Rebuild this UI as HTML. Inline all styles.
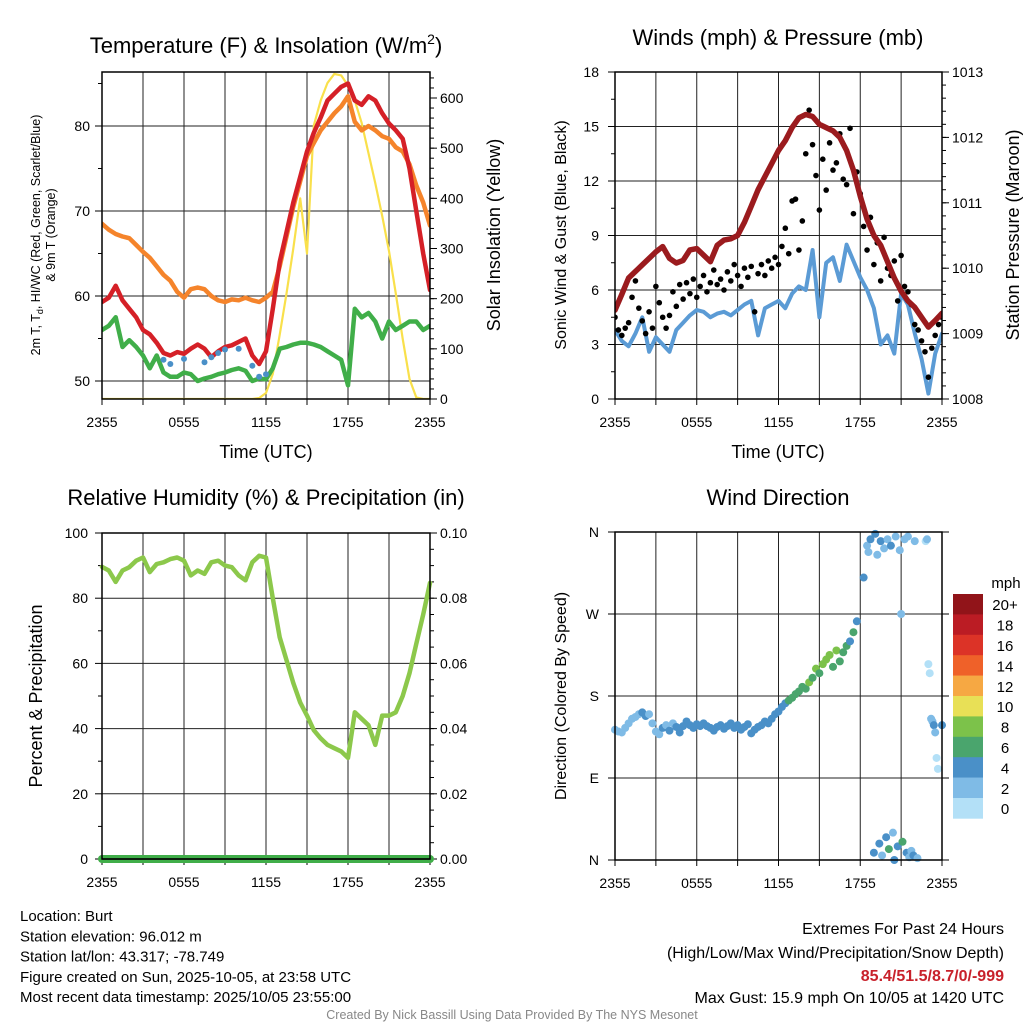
<!DOCTYPE html>
<html><head><meta charset="utf-8">
<style>
html,body{margin:0;padding:0;background:#fff;}
svg{display:block;font-family:"Liberation Sans",sans-serif;}
</style></head>
<body>
<svg id="fig" width="1024" height="1024" viewBox="0 0 1024 1024" xmlns="http://www.w3.org/2000/svg"></svg>
<script>
// ---------- DATA (half-hourly, 2355 -> 2355 UTC) ----------
const hourTickLabels = ["2355","0555","1155","1755","2355"];
const tempRed = [59.3,59.8,61.2,59.5,58.5,57.5,56.0,55.5,54.5,53.3,53.0,53.4,53.2,53.8,54.3,53.8,52.8,53.5,54.0,54.2,54.6,55.0,53.0,52.0,53.5,58.5,64.0,67.5,71.0,74.0,77.0,79.2,81.0,83.0,83.8,84.6,85.0,83.0,82.5,83.5,83.0,81.5,80.3,79.5,78.5,75.0,70.0,65.0,60.7];
const temp9m = [68.5,67.8,67.3,67.0,66.8,66.0,65.2,64.5,63.5,62.5,61.8,60.5,59.8,60.8,61.0,60.8,60.0,59.5,59.3,59.6,59.5,59.8,59.5,59.3,59.8,60.5,63.5,67.0,70.5,73.5,76.5,78.0,79.5,80.5,81.5,82.3,83.5,80.5,79.5,80.0,79.5,78.8,78.5,77.5,77.0,75.5,73.0,71.0,68.3];
const dewGreen = [56.0,56.5,57.5,54.0,54.8,54.0,53.0,51.5,53.0,51.0,50.5,50.5,51.0,50.8,50.0,50.3,50.5,50.8,51.0,51.3,51.5,51.2,50.0,50.3,50.2,51.5,53.8,54.0,54.3,54.5,54.5,54.3,54.0,53.5,53.0,52.5,49.5,58.5,57.5,58.0,57.0,55.0,57.0,56.0,56.5,57.0,57.0,56.0,56.5];
const hiwcBlue = [null,null,null,null,null,null,null,null,null,52.5,52.0,null,52.6,null,null,52.2,52.8,53.3,53.7,null,53.8,null,51.8,50.5,50.8,null,null,null,null,null,null,null,null,null,null,null,null,null,null,null,null,null,null,null,null,null,null,null,null];
const insolation = [0,0,0,0,0,0,0,0,0,0,0,0,0,0,0,0,0,0,0,0,0,0,0,2,12,50,128,210,300,400,290,545,595,630,648,645,625,595,550,490,430,365,295,210,120,40,3,0,0];
const windSpeed = [3.8,3.2,2.9,3.6,4.5,2.6,3.4,3.0,2.6,3.8,4.2,4.6,4.9,4.8,4.5,4.7,4.8,4.6,4.9,5.2,5.4,3.5,5.0,5.2,5.4,5.0,5.8,6.2,6.0,8.2,4.5,7.5,7.8,6.5,8.5,7.6,6.7,6.0,5.0,3.0,3.5,2.5,5.8,5.2,3.6,2.2,0.3,2.5,3.6];
const pressure = [1009.36,1009.6,1009.85,1009.95,1010.05,1010.15,1010.25,1010.33,1010.15,1010.08,1010.12,1010.28,1010.3,1010.2,1010.1,1010.35,1010.43,1010.45,1010.5,1010.7,1010.95,1011.2,1011.4,1011.6,1011.8,1011.95,1012.15,1012.3,1012.35,1012.32,1012.2,1012.15,1012.1,1012.0,1011.8,1011.5,1011.1,1010.75,1010.5,1010.35,1010.1,1009.85,1009.65,1009.5,1009.4,1009.25,1009.1,1009.2,1009.31];
// gusts every 15 minutes
const gust = [4.5,3.8,3.5,3.9,4.2,5.6,6.5,5.0,4.3, 3.6,4.8,3.9,6.2,5.3,4.5,3.9,4.6, 5.9,5.1,6.3,5.5,6.4,5.8,6.6,5.6, 6.2,6.8,5.9,6.4,7.1,6.3,6.6,6.0, 7.0,6.5,7.4,6.8,6.2,7.2,6.7,7.3, 4.8,6.9,7.4,6.8,7.6,7.2,7.8,7.4, 8.4,9.4,8.0,10.9,11.0,8.2,9.8,13.5, 15.9,14.0,12.3,10.4,13.2,11.5,14.1,12.6, 13.0,14.6,12.1,11.8,14.9,10.2,12.5,11.3, 9.5,8.2,10.0,7.4,8.6,6.5,8.9,7.2, 6.8,7.6,5.4,7.9,6.2,5.9,5.2,4.1, 3.8,3.2,2.6,1.2,2.8,3.5,4.1,4.5];
const relHum = [89.6,88.5,85,88.5,89.5,91.5,92.5,88,90.5,91,92,92.5,91.5,87,88.5,87.5,91,91.5,90,89.5,87,85.5,91,93,92.5,80,68,61,54,48,44,39.5,37,35,34,33,31,45,43,41,35,44,44,45,50,57,66,75,84.7];
const precip = [0,0,0,0,0,0,0,0,0,0,0,0,0,0,0,0,0,0,0,0,0,0,0,0,0,0,0,0,0,0,0,0,0,0,0,0,0,0,0,0,0,0,0,0,0,0,0,0,0];
// wind direction scatter
const dirHour = [0,0.25,0.5,0.75,1,1.25,1.5,1.75,2,2.25,2.5,2.75,3,3.25,3.5,3.75,4,4.25,4.5,4.75,5,5.25,5.5,5.75,6,6.25,6.5,6.75,7,7.25,7.5,7.75,8,8.25,8.5,8.75,9,9.25,9.5,9.75,10,10.25,10.5,10.75,11,11.25,11.5,11.75,12,
 12.25,12.5,12.75,13,13.25,13.5,13.75,14,14.25,14.5,14.75,15,15.25,15.5,15.75,16,16.25,16.5,16.75,17,17.25,17.5,17.75,
 18.25,18.5,18.6,18.75,19,19.1,19.25,19.4,19.5,19.6,19.75,19.9,20,20.1,20.25,20.4,20.5,20.6,20.75,20.9,21,21.1,21.25,21.4,21.5,21.6,21.75,21.9,22,22.2,
 22.8,22.9,23.0,23.1,23.2,23.3,23.4,23.5,23.6,23.7,24];
const dirDeg = [143,141,140,145,150,155,157,160,162,158,160,150,141,138,145,148,142,150,146,140,147,152,148,145,149,147,150,147,145,142,146,148,144,147,150,145,148,143,146,149,139,143,146,148,152,150,155,160,163,
 168,172,175,178,182,185,190,188,195,200,210,205,215,220,225,212,230,218,228,235,240,250,262,
 310,345,338,352,8,358,335,18,350,5,342,25,352,12,345,30,0,355,15,340,270,20,352,8,355,3,10,5,350,2,
 350,352,215,205,155,152,148,140,112,100,148];
const dirSpeed = [3.8,3.5,3.2,3.0,2.9,3.4,3.8,3.1,4.5,4.2,2.8,3.5,3.4,3.1,4.1,3.6,4.5,3.9,4.4,4.2,4.2,4.5,4.6,4.8,4.9,4.7,4.8,4.6,4.5,4.4,4.7,4.6,4.8,4.5,4.6,4.9,4.9,5.1,5.2,5.0,5.4,4.8,5.0,5.1,5.0,5.2,5.4,5.8,5.4,
 5,5.5,6,6.5,7,6,6.5,7.5,8,6,8.5,7.5,8,9,8.5,6.5,8,7.5,6,6,5,6.5,5,
 4,3.5,2.5,4,5,4,3,4,4.5,3.5,2.5,4,3,6.5,4,2.5,4,3,4,3,3.5,6.5,3,4.5,3,2.5,3,4,2,3,
 1.5,2,1,1.5,2,2.5,4,3,1,1.5,4.5];
const cbLabels = ["20+","18","16","14","12","10","8","6","4","2","0"];
const cbColors = ["#911419","#bb1c24","#dc3327","#ef6129","#f6a843","#e8e056","#7cc24a","#4aa56d","#4a90c8","#7fbbe6","#b3e0f7"];

// ---------- helpers ----------
const svg = document.getElementById('fig');
const NS = "http://www.w3.org/2000/svg";
function mk(tag, attrs, parent){ const e=document.createElementNS(NS,tag); for(const k in attrs) e.setAttribute(k,attrs[k]); (parent||svg).appendChild(e); return e; }
function txt(s, x, y, size, anchor, parent, extra){ const t=mk('text',Object.assign({x:x,y:y,'font-size':size,'text-anchor':anchor||'middle',fill:'#000'},extra||{}),parent); t.textContent=s; return t; }
function lin(d0,d1,r0,r1){ return v => r0+(v-d0)*(r1-r0)/(d1-d0); }

const P1={x0:102,x1:430,y0:72,y1:399}, P2={x0:615,x1:942,y0:72,y1:399};
const P3={x0:102,x1:430,y0:533,y1:859}, P4={x0:615,x1:942,y0:532,y1:860};

function frame(P, name){
  const g=mk('g',{});  
  const xs=lin(0,24,P.x0,P.x1);
  for(let h=3;h<24;h+=3) mk('line',{x1:xs(h),x2:xs(h),y1:P.y0,y2:P.y1,stroke:'#222','stroke-width':1},g);
  for(let h=0;h<=24;h+=3) mk('line',{x1:xs(h),x2:xs(h),y1:P.y1,y2:P.y1+6,stroke:'#000','stroke-width':1},g);
  hourTickLabels.forEach((l,i)=>{ const t=txt(l,xs(i*6),P.y1+28,14,'middle',g);   });
  return {g,xs};
}
function border(P,g){ mk('rect',{x:P.x0,y:P.y0,width:P.x1-P.x0,height:P.y1-P.y0,fill:'none',stroke:'#000','stroke-width':1.5},g); }
function hgrid(P,g,ys,vals){ vals.forEach(v=>mk('line',{x1:P.x0,x2:P.x1,y1:ys(v),y2:ys(v),stroke:'#222','stroke-width':1},g)); }
function leftTicks(P,g,ys,major,minor,fmt,off){
  minor.forEach(v=>mk('line',{x1:P.x0-4,x2:P.x0,y1:ys(v),y2:ys(v),stroke:'#000'},g));
  major.forEach(v=>{ mk('line',{x1:P.x0-7,x2:P.x0,y1:ys(v),y2:ys(v),stroke:'#000'},g); const t=txt(fmt(v),P.x0-(off||12),ys(v)+5,14,'end',g);   });
}
function rightTicks(P,g,ys,major,minor,fmt){
  minor.forEach(v=>mk('line',{x1:P.x1,x2:P.x1+4,y1:ys(v),y2:ys(v),stroke:'#000'},g));
  major.forEach(v=>{ mk('line',{x1:P.x1,x2:P.x1+7,y1:ys(v),y2:ys(v),stroke:'#000'},g); const t=txt(fmt(v),P.x1+10,ys(v)+5,14,'start',g);   });
}
function pathFrom(arr, xs, ys, step){
  let d='', pen=false;
  arr.forEach((v,i)=>{ if(v===null){pen=false;return;} d+=(pen?'L':'M')+xs(i*step).toFixed(1)+','+ys(v).toFixed(1); pen=true; });
  return d;
}
function range(a,b,s){ const r=[]; for(let v=a; v<=b+1e-9; v+=s) r.push(+v.toFixed(4)); return r; }

// ---------- Panel 1 ----------
(function(){
  const {g,xs}=frame(P1,'temperature-panel');
  const ys=lin(50,80,381,126), yr=lin(0,600,399,98);
  hgrid(P1,g,ys,[50,60,70,80]);
  leftTicks(P1,g,ys,[50,60,70,80],[55,65,75,85],v=>String(v));
  rightTicks(P1,g,yr,[0,100,200,300,400,500,600],range(0,640,20),v=>String(v));
  const clip=mk('clipPath',{id:'c1'},g); mk('rect',{x:P1.x0,y:P1.y0,width:P1.x1-P1.x0,height:P1.y1-P1.y0},clip);
  const pg=mk('g',{'clip-path':'url(#c1)'},g);
  let p;
  p=mk('path',{d:pathFrom(insolation,xs,yr,0.5),fill:'none',stroke:'#f9e04b','stroke-width':2.2,'stroke-linejoin':'round'},pg);  
  p=mk('path',{d:pathFrom(temp9m,xs,ys,0.5),fill:'none',stroke:'#f5842b','stroke-width':4.5,'stroke-linejoin':'round','stroke-linecap':'round'},pg);  
  p=mk('path',{d:pathFrom(dewGreen,xs,ys,0.5),fill:'none',stroke:'#40ae49','stroke-width':4.5,'stroke-linejoin':'round','stroke-linecap':'round'},pg);  
  p=mk('path',{d:pathFrom(tempRed,xs,ys,0.5),fill:'none',stroke:'#d52027','stroke-width':4.5,'stroke-linejoin':'round','stroke-linecap':'round'},pg);  
  hiwcBlue.forEach((v,i)=>{ if(v===null) return; const c=mk('circle',{cx:xs(i*0.5),cy:ys(v),r:3,fill:'#4a90c8'},pg);   });
  border(P1,g);
  let t=mk('text',{x:266,y:53,'font-size':22,'text-anchor':'middle'});
  t.innerHTML='Temperature (F) &amp; Insolation (W/m<tspan dy="-9" font-size="14">2</tspan><tspan dy="9">)</tspan>';
   
  t=txt('Time (UTC)',266,458,18);  
  t=mk('text',{x:0,y:0,'font-size':12.5,'text-anchor':'middle',transform:'translate(40,235) rotate(-90)'});
  t.innerHTML='2m T, T<tspan dy="3" font-size="9">d</tspan><tspan dy="-3">, HI/WC (Red, Green, Scarlet/Blue)</tspan>';
   
  t=txt('& 9m T (Orange)',0,0,12.5,'middle',null,{transform:'translate(55,235) rotate(-90)'});  
  t=txt('Solar Insolation (Yellow)',0,0,18,'middle',null,{transform:'translate(500,235) rotate(-90)'});  
})();

// ---------- Panel 2 ----------
(function(){
  const {g,xs}=frame(P2,'wind-pressure-panel');
  const ys=lin(0,18,399,72), yr=lin(1008,1013,399,72);
  hgrid(P2,g,ys,[3,6,9,12,15]);
  leftTicks(P2,g,ys,[0,3,6,9,12,15,18],[1.5,4.5,7.5,10.5,13.5,16.5],v=>String(v),16);
  rightTicks(P2,g,yr,[1008,1009,1010,1011,1012,1013],range(1008,1013,0.2),v=>String(v));
  const clip=mk('clipPath',{id:'c2'},g); mk('rect',{x:P2.x0,y:P2.y0,width:P2.x1-P2.x0,height:P2.y1-P2.y0},clip);
  const pg=mk('g',{'clip-path':'url(#c2)'},g);
  let p=mk('path',{d:pathFrom(windSpeed,xs,ys,0.5),fill:'none',stroke:'#5b9bd5','stroke-width':4,'stroke-linejoin':'round','stroke-linecap':'round'},pg);  
  gust.forEach((v,i)=>{ const c=mk('circle',{cx:xs(i*0.25),cy:ys(v),r:2.8,fill:'#000'},pg);   });
  p=mk('path',{d:pathFrom(pressure,xs,yr,0.5),fill:'none',stroke:'#9b1b1e','stroke-width':5.5,'stroke-linejoin':'round','stroke-linecap':'round'},pg);  
  border(P2,g);
  let t=txt('Winds (mph) & Pressure (mb)',778,45,22);  
  t=txt('Time (UTC)',778,458,18);  
  t=txt('Sonic Wind & Gust (Blue, Black)',0,0,16,'middle',null,{transform:'translate(566,235) rotate(-90)'});  
  t=txt('Station Pressure (Maroon)',0,0,18,'middle',null,{transform:'translate(1019,235) rotate(-90)'});  
})();

// ---------- Panel 3 ----------
(function(){
  const {g,xs}=frame(P3,'humidity-precip-panel');
  const ys=lin(0,100,859,533), yr=lin(0,0.1,859,533);
  hgrid(P3,g,ys,[20,40,60,80]);
  leftTicks(P3,g,ys,[0,20,40,60,80,100],[10,30,50,70,90],v=>String(v),14);
  rightTicks(P3,g,yr,[0,0.02,0.04,0.06,0.08,0.1],range(0,0.1,0.005),v=>v.toFixed(2));
  let p=mk('path',{d:pathFrom(relHum,xs,ys,0.5),fill:'none',stroke:'#8cc84b','stroke-width':4.5,'stroke-linejoin':'round','stroke-linecap':'round'},g);  
  p=mk('path',{d:pathFrom(precip,xs,yr,0.5),fill:'none',stroke:'#40ae49','stroke-width':8,'stroke-linecap':'round'},g);  
  border(P3,g);
  mk('line',{x1:P3.x0,x2:P3.x1,y1:P3.y1,y2:P3.y1,stroke:'#000','stroke-width':1.2},g);
  let t=txt('Relative Humidity (%) & Precipitation (in)',266,505,22);  
  t=txt('Percent & Precipitation',0,0,18,'middle',null,{transform:'translate(42,696) rotate(-90)'});  
})();

// ---------- Panel 4 ----------
(function(){
  const {g,xs}=frame(P4,'wind-direction-panel');
  const ys=lin(0,360,860,532);
  hgrid(P4,g,ys,[90,180,270]);
  const dl={0:'N',90:'E',180:'S',270:'W',360:'N'};
  leftTicks(P4,g,ys,[0,90,180,270,360],[],v=>dl[v],16);
  rightTicks(P4,g,ys,[0,90,180,270,360],[],v=>'');
  function col(s){ const k=Math.min(10,Math.floor(s/2)); return cbColors[10-k]; }
  dirHour.forEach((h,i)=>{ const c=mk('circle',{cx:xs(h),cy:ys(dirDeg[i]),r:4,fill:col(dirSpeed[i])},g);   });
  border(P4,g);
  // colorbar
  const cb=mk('g',{});  
  const bh=20.4;
  cbColors.forEach((c,i)=>{ mk('rect',{x:953,y:594+i*bh,width:30,height:bh+0.3,fill:c},cb); const t=txt(cbLabels[i],1005,594+i*bh+bh/2+6,15,'middle',cb);   });
  let t=txt('mph',1006,588,15,'middle',cb);  
  t=txt('Wind Direction',778,505,22);  
  t=txt('Direction (Colored By Speed)',0,0,16,'middle',null,{transform:'translate(566,696) rotate(-90)'});  
})();

// ---------- Footer text ----------
(function(){
  const left=["Location: Burt","Station elevation: 96.012 m","Station lat/lon: 43.317; -78.749","Figure created on Sun, 2025-10-05, at 23:58 UTC","Most recent data timestamp: 2025/10/05 23:55:00"];
  left.forEach((s,i)=>{ const t=txt(s,20,921+i*20.3,15,'start');   });
  let t=txt('Extremes For Past 24 Hours',1004,934,16,'end');  
  t=txt('(High/Low/Max Wind/Precipitation/Snow Depth)',1004,958,16,'end');  
  t=txt('85.4/51.5/8.7/0/-999',1004,981,16,'end',null,{fill:'#c8212b','font-weight':'bold'});  
  t=txt('Max Gust: 15.9 mph On 10/05 at 1420 UTC',1004,1003,16,'end');  
  t=txt('Created By Nick Bassill Using Data Provided By The NYS Mesonet',512,1019,12.5,'middle',null,{fill:'#888'});  
})();
</script>
</body></html>
